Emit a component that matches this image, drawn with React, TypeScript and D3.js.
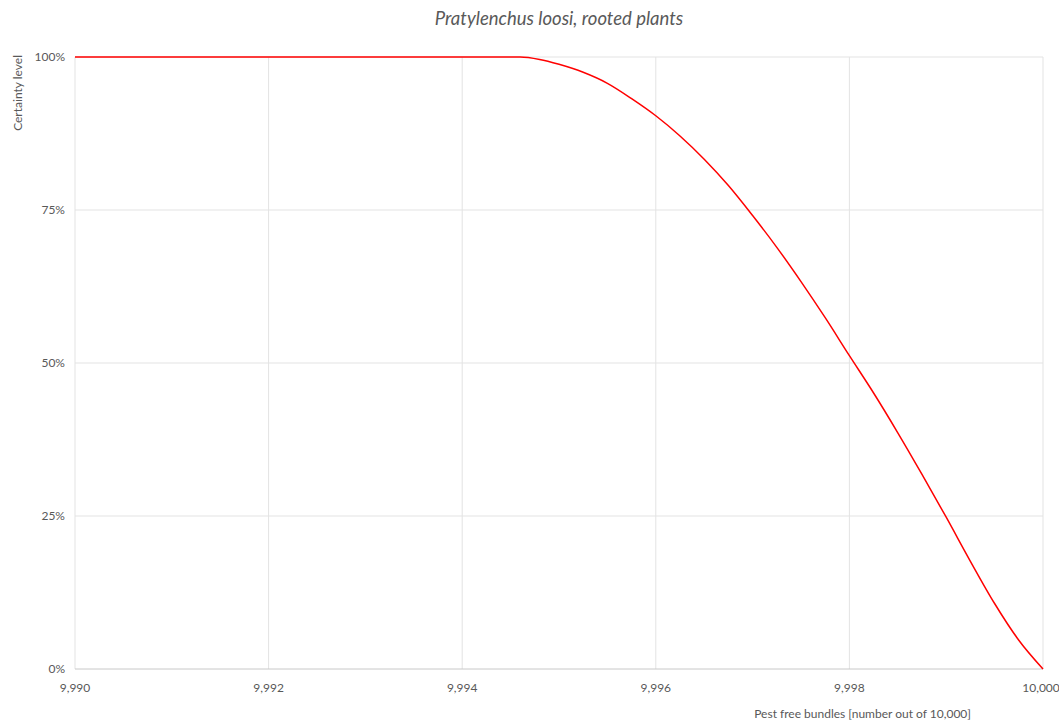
import React from "react";
import * as d3 from "d3";

const xValues = [9990, 9994, 9994.6, 9994.8, 9995, 9995.25, 9995.5, 9995.75, 9996, 9996.25, 9996.5, 9996.75, 9997, 9997.25, 9997.5, 9997.75, 9998, 9998.25, 9998.5, 9998.75, 9999, 9999.25, 9999.5, 9999.75, 10000];
const certainty = [1, 1, 1, 0.996, 0.988, 0.975, 0.957, 0.932, 0.904, 0.871, 0.833, 0.79, 0.741, 0.689, 0.633, 0.574, 0.512, 0.451, 0.386, 0.318, 0.248, 0.176, 0.107, 0.047, 0];
const xTicks = [9990, 9992, 9994, 9996, 9998, 10000];
const yTicks = [0, 0.25, 0.5, 0.75, 1];
const title = "Pratylenchus loosi, rooted plants";
const xLabel = "Pest free bundles [number out of 10,000]";
const yLabel = "Certainty level";

const W = 1059, H = 720;
const M = { left: 75, right: 1043, top: 57, bottom: 669 };
const FONT = "Lato, 'Open Sans', sans-serif";

export default function App() {
  const x = d3.scaleLinear().domain([9990, 10000]).range([M.left, M.right]);
  const y = d3.scaleLinear().domain([0, 1]).range([M.bottom, M.top]);
  const pts = xValues.map((v, i) => [v, certainty[i]] as [number, number]);
  const line = d3.line<[number, number]>().x(d => x(d[0])).y(d => y(d[1])).curve(d3.curveMonotoneX);
  const fmtX = d3.format(",");
  const fmtY = d3.format(".0%");
  return (
    <svg width={W} height={H} style={{ position: "absolute", left: 0, top: 0, background: "#fff" }} fontFamily={FONT}>
      {xTicks.map(t => (
        <line key={"gx" + t} x1={x(t)} x2={x(t)} y1={M.top} y2={M.bottom} stroke="#e3e3e3" strokeWidth={1} />
      ))}
      {yTicks.map(t => (
        <line key={"gy" + t} x1={M.left} x2={M.right} y1={y(t)} y2={y(t)} stroke={t === 0 ? "#c8c8c8" : "#e3e3e3"} strokeWidth={1} />
      ))}
      {yTicks.map(t => (
        <text key={"ty" + t} x={65} y={y(t)} dy="0.35em" textAnchor="end" fontSize={12} fill="#595959">{fmtY(t)}</text>
      ))}
      {xTicks.map(t => (
        <text key={"tx" + t} x={Math.min(x(t), W - 18)} y={692} textAnchor="middle" fontSize={12} fill="#595959">{fmtX(t)}</text>
      ))}
      <path d={line(pts) || ""} fill="none" stroke="#ff0000" strokeWidth={1.5} />
      <text x={(M.left + M.right) / 2} y={25} textAnchor="middle" fontSize={18.5} fontStyle="italic" fill="#595959">{title}</text>
      <text x={971} y={718} textAnchor="end" fontSize={12} fill="#595959">{xLabel}</text>
      <text transform={`translate(22,${M.top - 2}) rotate(-90)`} textAnchor="end" fontSize={12} fill="#595959">{yLabel}</text>
    </svg>
  );
}
